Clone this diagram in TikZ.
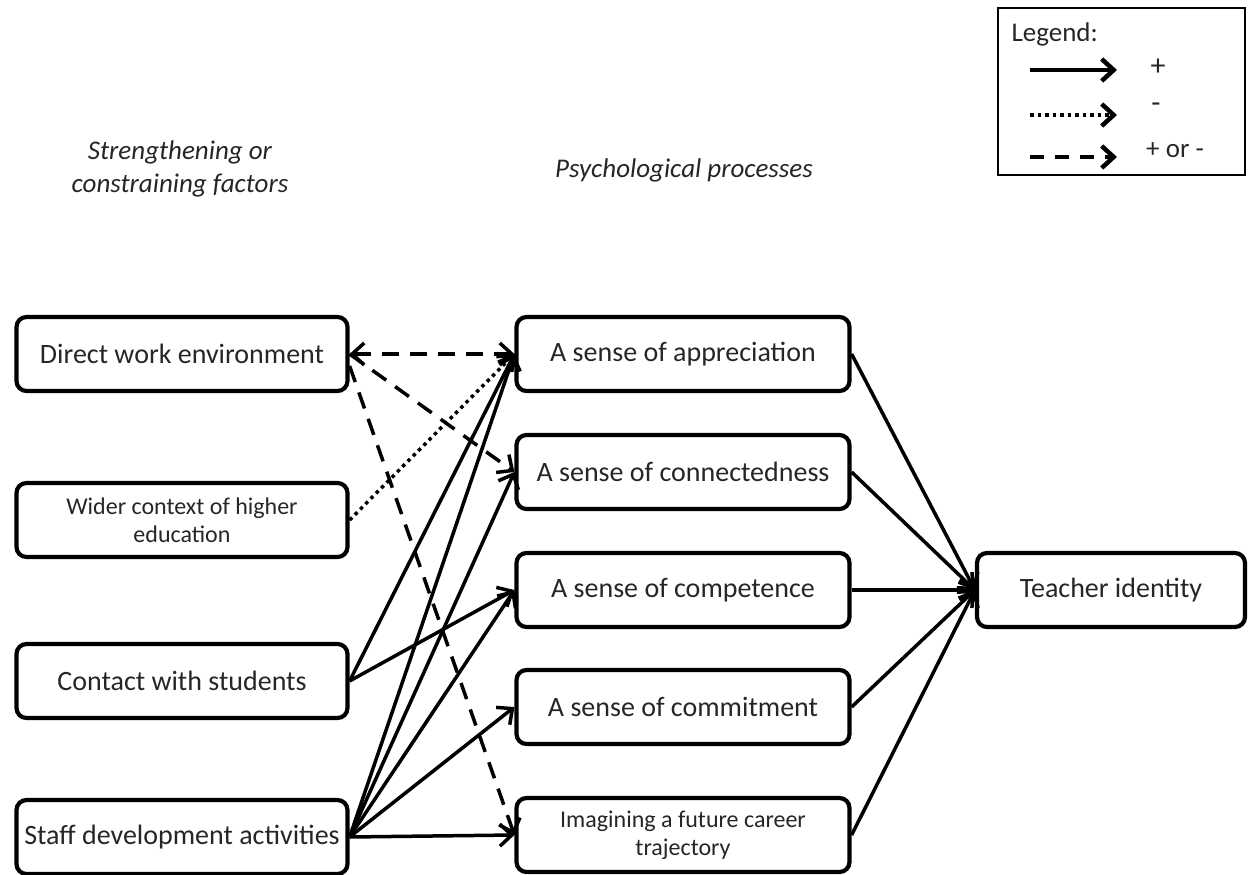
\documentclass[tikz,border=0pt]{standalone}
\usepackage{fontspec}
\setmainfont{Carlito}
\usetikzlibrary{arrows.meta,positioning}

\begin{document}
\begin{tikzpicture}[x=1pt,y=-1pt,
  barb/.tip={Straight Barb[length=12pt,width=22pt]},
  box/.style={draw,line width=4.2pt,rounded corners=10pt,minimum height=74pt,inner sep=0pt,
    align=center,text=black!85,font=\fontsize{28}{34}\selectfont},
  leftbox/.style={box,minimum width=331pt},
  midbox/.style={box,minimum width=333pt},
  small/.style={font=\fontsize{24}{28}\selectfont},
  plusline/.style={line width=3.5pt,-barb},
  minusline/.style={plusline,dash pattern=on 3.5pt off 4pt},
  eitherline/.style={plusline,dash pattern=on 17pt off 11pt},
  legtext/.style={text=black!85,font=\fontsize{27}{32}\selectfont},
  head/.style={align=center,text=black!85,font=\fontsize{27}{33}\selectfont\itshape}]
  \useasboundingbox (0,0) rectangle (1251,875);
  % Column headings
  \node[head] (hleft) at (180,169) {Strengthening or\\constraining factors};
  \node[head] (hmid) at (684,170) {Psychological processes};
  % Factors
  \node[leftbox] (work) at (182,354) {Direct work environment};
  \node[leftbox,small] (wider) at (182,520) {Wider context of higher\\education};
  \node[leftbox] (contact) at (182,681) {Contact with students};
  \node[leftbox] (staff) at (182,837) {Staff development activities};
  % Processes
  \node[midbox] (appr) at (683,354) {A sense of appreciation};
  \node[midbox] (conn) at (683,472) {A sense of connectedness};
  \node[midbox] (comp) at (683,590) {A sense of competence};
  \node[midbox] (commit) at (683,707) {A sense of commitment};
  \node[midbox,small] (future) at (683,835) {Imagining a future career\\trajectory};
  % Outcome
  \node[box,minimum width=268pt] (teacher) at (1111,590) {Teacher identity};
  % Factors -> processes
  \draw[eitherline,barb-barb] (work.east) -- (appr.west);
  \draw[eitherline] (work.east) -- (conn.west);
  \draw[eitherline] ([yshift=-12pt]work.east) -- (future.west);
  \draw[minusline] (wider.east) -- (appr.west);
  \draw[plusline] (contact.east) -- (appr.west);
  \draw[plusline] (contact.east) -- (comp.west);
  \foreach \p in {appr,conn,comp,commit,future}
    \draw[plusline] (staff.east) -- (\p.west);
  % Processes -> teacher identity
  \foreach \p in {appr,conn,comp,commit,future}
    \draw[plusline] (\p.east) -- (teacher.west);
  % Legend
  \node[draw,line width=2.4pt,minimum width=247pt,minimum height=167pt] (legend) at (1121.5,91.5) {};
  \node[anchor=west,legtext] (ltitle) at (1008,34) {Legend:};
  \coordinate (pa) at (1030,70);   \coordinate (pb) at (1117,70);
  \coordinate (na) at (1030,115);  \coordinate (nb) at (1117,115);
  \coordinate (ma) at (1030,157);  \coordinate (mb) at (1117,157);
  \draw[plusline,line width=4.5pt] (pa) -- (pb);
  \draw[minusline,line width=4.5pt] (na) -- (nb);
  \draw[eitherline,line width=4.5pt,dash pattern=on 14pt off 11pt] (ma) -- (mb);
  \node[legtext,font=\fontsize{30}{34}\selectfont] (lplus) at (1158,67) {+};
  \node[legtext,font=\fontsize{30}{34}\selectfont] (lminus) at (1156,108) {-};
  \node[legtext] (leither) at (1175,150) {+ or -};
\end{tikzpicture}
\end{document}
